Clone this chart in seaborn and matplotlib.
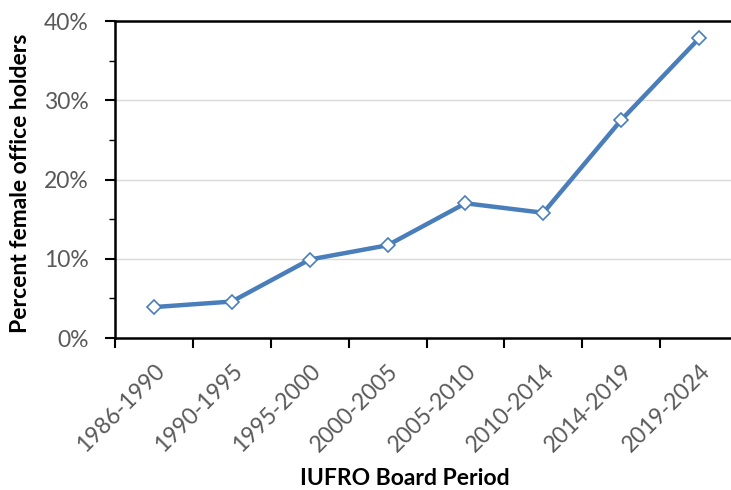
import matplotlib
matplotlib.use("Agg")
import matplotlib.pyplot as plt
import matplotlib.transforms as mtransforms
import seaborn as sns
import pandas as pd
from matplotlib.ticker import MultipleLocator, FuncFormatter

periods = ["1986-1990", "1990-1995", "1995-2000", "2000-2005",
           "2005-2010", "2010-2014", "2014-2019", "2019-2024"]
percent_female = [3.9, 4.6, 9.9, 11.7, 17.0, 15.8, 27.5, 37.8]

df = pd.DataFrame({"period": periods, "pct": percent_female})

sns.set_theme(style="white")
plt.rcParams['font.family'] = ['Lato', 'DejaVu Sans']

fig = plt.figure(figsize=(7.31, 4.90), dpi=100)
ax_w = 738 - 115
ax_h = 338 - 21
ax = fig.add_axes([115/731, 1 - 338/490, ax_w/731, ax_h/490])

x = list(range(len(periods)))
sns.lineplot(x=x, y=df["pct"], ax=ax, color="#4A7EBB", linewidth=3.2,
             marker="D", markersize=7.5, markerfacecolor="white",
             markeredgecolor="#4A7EBB", markeredgewidth=1.2, clip_on=False)

ax.set_xlim(-0.5, len(periods) - 0.5)
ax.set_ylim(0, 40)
ax.yaxis.set_major_locator(MultipleLocator(10))
ax.yaxis.set_minor_locator(MultipleLocator(5))
ax.yaxis.set_major_formatter(FuncFormatter(lambda v, p: f"{int(v)}%"))
ax.set_xticks([i - 0.5 for i in range(len(periods) + 1)])
ax.set_xticklabels([])
ax.set_xticks(x, minor=True)
ax.set_xticklabels(periods, minor=True, rotation=45, ha="right", va="top",
                   rotation_mode="anchor", fontsize=16.5, color="#595959")
offset = mtransforms.ScaledTranslation(3/100, 0, fig.dpi_scale_trans)
for lab in ax.get_xticklabels(minor=True):
    lab.set_transform(lab.get_transform() + offset)
ax.tick_params(axis="x", which="minor", length=0, pad=16)
ax.tick_params(axis="x", which="major", direction="out", length=7, width=1.5,
               color="black", bottom=True)
ax.tick_params(axis="y", which="major", direction="out", length=7, width=1.5,
               color="black", left=True, labelsize=16.5, labelcolor="#595959", pad=12)
ax.tick_params(axis="y", which="minor", direction="out", length=4, width=1,
               color="black", left=True)

ax.grid(axis="y", which="major", color="#D9D9D9", linewidth=1)
ax.set_axisbelow(True)

for s in ["left", "bottom", "top"]:
    ax.spines[s].set_visible(True)
    ax.spines[s].set_color("black")
    ax.spines[s].set_linewidth(1.8)
ax.spines["right"].set_visible(False)

ax.set_ylabel("Percent female office holders", fontsize=16.5, fontweight="bold",
              color="black")
ax.set_xlabel("IUFRO Board Period", fontsize=16.5, fontweight="bold",
              color="black")
ax.yaxis.set_label_coords((20 - 115) / ax_w, (338 - 183) / ax_h)
ax.xaxis.set_label_coords((405 - 115) / ax_w, (338 - 478) / ax_h)
ax.xaxis.label.set_va("center")
ax.yaxis.label.set_va("center")

fig.savefig("out.png", dpi=100)
